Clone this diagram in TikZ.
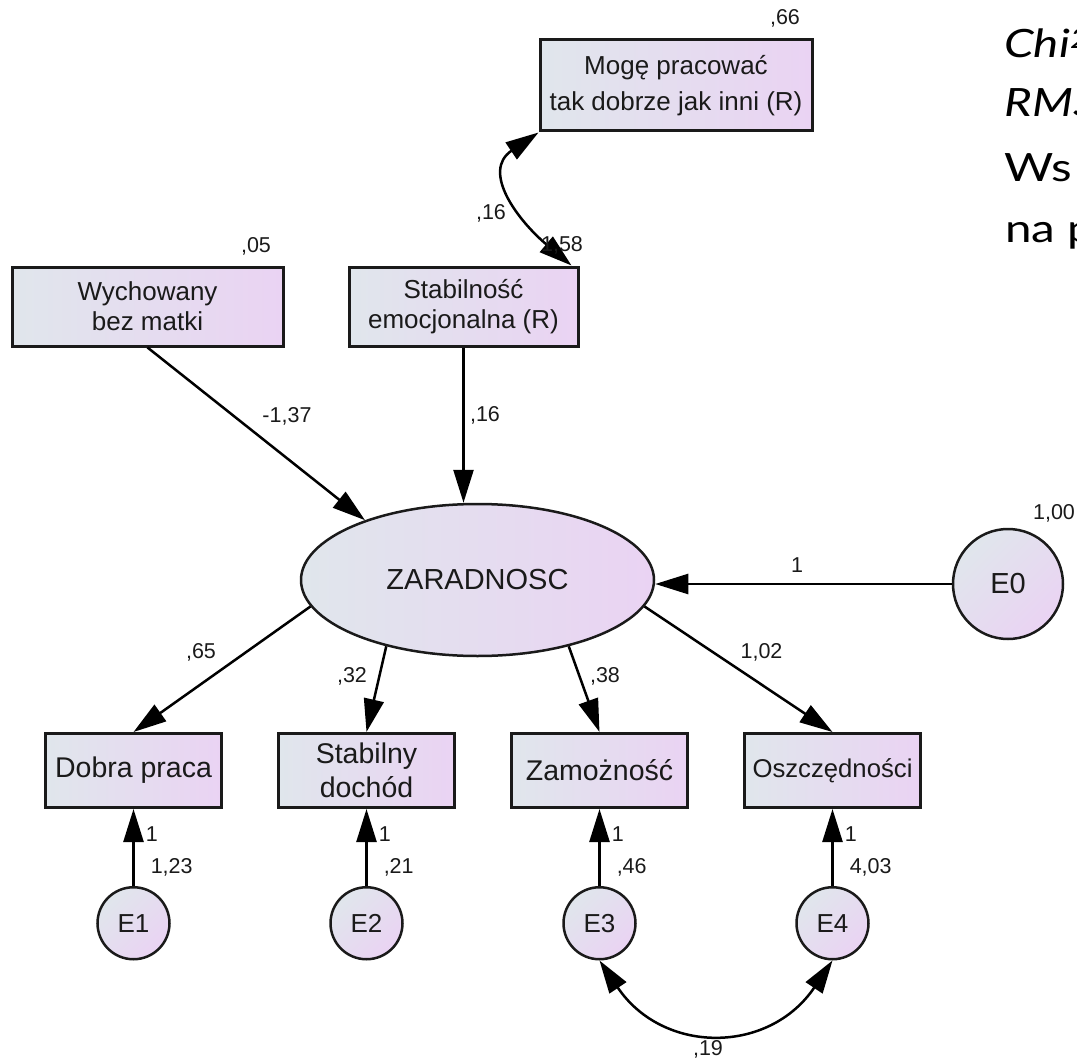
\documentclass[tikz,border=0pt]{standalone}
\usepackage{fontspec}
\setmainfont{Liberation Sans}
\newfontfamily\sidefont[FakeStretch=1.22]{Lato}
\usetikzlibrary{arrows.meta,positioning,shapes.geometric}
\definecolor{fillL}{RGB}{224,230,236}
\definecolor{fillR}{RGB}{234,211,243}
\definecolor{ink}{RGB}{26,26,26}

\begin{document}
\begin{tikzpicture}[x=1pt,y=1pt,line width=2.5pt,
    >={Triangle[length=33pt,width=20pt]},
    var/.style={draw=ink,line width=3pt,left color=fillL,right color=fillR,
        align=center,inner sep=0pt,text=ink},
    obs/.style={var,minimum width=176pt,minimum height=74pt,
        font=\fontsize{28.5}{34}\selectfont},
    lat/.style={ellipse,draw=ink,left color=fillL,right color=fillR,
        minimum width=353pt,minimum height=152pt,inner sep=0pt,text=ink,
        font=\fontsize{29}{33}\selectfont},
    err/.style={circle,draw=ink,top color=fillL,bottom color=fillR,shading angle=45,
        minimum size=#1,inner sep=0pt,text=ink},
    num/.style={font=\fontsize{21.5}{24}\selectfont,text=ink,inner sep=0pt},
    side/.style={font=\sidefont\fontsize{39}{44}\selectfont,anchor=base west,inner sep=0pt}]
    \useasboundingbox (0,0) rectangle (1077,-1062);
    \clip (0,0) rectangle (1077,-1062);
    % upper variables
    \node[var,minimum width=272pt,minimum height=91pt,font=\fontsize{26}{36.5}\selectfont]
        (mog) at (676,-85.5) {Mogę pracować\\tak dobrze jak inni (R)};
    \node[var,minimum width=271pt,minimum height=79pt,font=\fontsize{26}{30}\selectfont]
        (wych) at (147.5,-306.5) {Wychowany\\bez matki};
    \node[var,minimum width=229pt,minimum height=79pt,font=\fontsize{26}{30}\selectfont]
        (stab) at (463.5,-306.5) {Stabilność\\emocjonalna (R)};
    \node[lat] (zar) at (477.5,-580) {ZARADNOSC};
    \node[err=110pt,font=\fontsize{29}{33}\selectfont] (e0) at (1008,-584) {E0};
    % indicators
    \node[obs] (dp) at (133.5,-770.5) {Dobra praca};
    \node[obs,right=54pt of dp] (sd) {Stabilny\\dochód};
    \node[obs,right=54pt of sd] (zam) {Zamożność};
    \node[obs,right=54pt of zam,font=\fontsize{25.7}{30}\selectfont] (osz) {Oszczędności};
    \foreach \i/\b/\v in {1/dp/{1,23},2/sd/{,21},3/zam/{,46},4/osz/{4,03}}
        {\node[err=72pt,below=77pt of \b,font=\fontsize{26}{30}\selectfont] (e\i) {E\i};
         \draw[->] (e\i) -- (\b);
         \node[num,anchor=west] (one\i) at ([shift={(11pt,-25.5pt)}]\b.south) {1};
         \node[num,anchor=west] (var\i) at ([shift={(16pt,-58.5pt)}]\b.south) {\v};}
    % paths
    \draw[->] (wych.south) -- (zar.152);
    \draw[->] (stab.south) -- (stab.south |- zar.north);
    \draw[->] (e0.west) -- (e0.west -| zar.east);
    \draw[->] (zar.189) -- (dp.north);
    \draw[->] (zar.216) -- (sd.north);
    \draw[->] (zar.324.7) -- (zam.north);
    \draw[->] (zar.351) -- (osz.north);
    \draw[<->] (mog.south west) to[out=214,in=140,looseness=1.3] ([xshift=-8pt]stab.north east);
    \draw[<->] (e3.south) to[out=-56,in=236,looseness=1.25] (e4.south);
    % estimates
    \node[num] (v66) at (785,-18) {,66};
    \node[num] (v05) at (256,-246) {,05};
    \node[num] (v158) at (562,-245) {1,58};
    \node[num] (c16) at (491,-213) {,16};
    \node[num] (w137) at (287,-416) {-1,37};
    \node[num] (w16) at (485,-415) {,16};
    \node[num] (w1) at (797,-565) {1};
    \node[num] (v100) at (1054,-513) {1,00};
    \node[num] (l65) at (201,-652) {,65};
    \node[num] (l32) at (352,-676) {,32};
    \node[num] (l38) at (605,-676) {,38};
    \node[num] (l102) at (761.5,-652) {1,02};
    \node[num] (c19) at (708,-1049) {,19};
    % fit indices (cut off at the edge)
    \node[side] (chi) at (1003,-58) {\itshape Chi\textsuperscript{2}};
    \node[side] (rms) at (1003,-117) {\itshape RMS};
    \node[side] (ws) at (1003,-182) {Ws};
    \node[side] (nap) at (1004,-242) {na p};
\end{tikzpicture}
\end{document}
